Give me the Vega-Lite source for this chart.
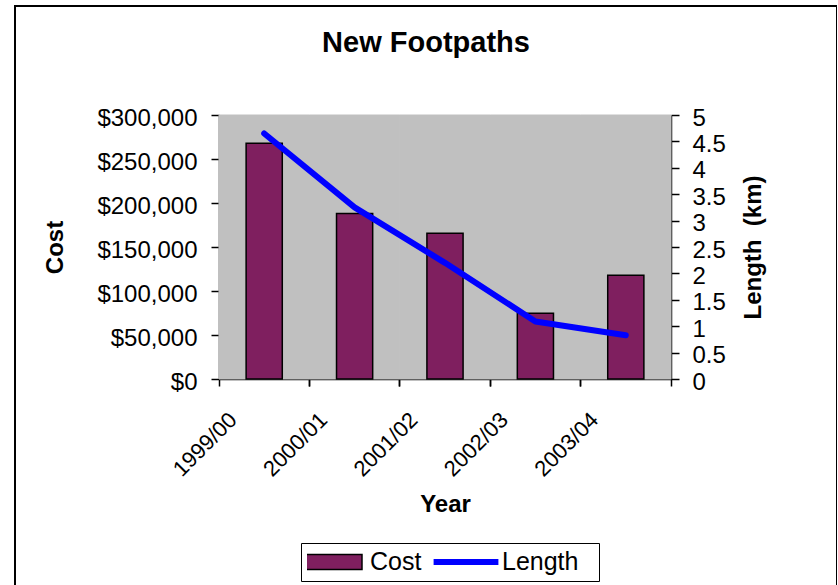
{
  "$schema": "https://vega.github.io/schema/vega-lite/v6.json",
  "width": 822,
  "height": 600,
  "autosize": {"type": "none"},
  "padding": {"left": 15, "top": 6, "right": 0, "bottom": 0},
  "background": "white",
  "config": {
    "view": {"stroke": "black", "strokeWidth": 2, "fill": "white"},
    "font": "Liberation Sans",
    "axis": {
      "labelFont": "Liberation Sans",
      "titleFont": "Liberation Sans",
      "labelColor": "black",
      "titleColor": "black",
      "domainColor": "black",
      "tickColor": "black",
      "domainWidth": 1.5,
      "tickWidth": 1.5,
      "grid": false,
      "labelFontSize": 24,
      "titleFontSize": 24,
      "titleFontWeight": "bold"
    },
    "legend": {
      "labelFont": "Liberation Sans",
      "labelFontSize": 25,
      "labelColor": "black",
      "labelBaseline": "middle",
      "labelLimit": 400,
      "padding": 6,
      "clipHeight": 26,
      "symbolSize": 3600,
      "direction": "vertical",
      "orient": "none"
    }
  },
  "title": {
    "text": "New Footpaths",
    "anchor": "middle",
    "frame": "group",
    "offset": -75,
    "baseline": "alphabetic",
    "font": "Liberation Sans",
    "fontSize": 29,
    "fontWeight": "bold",
    "color": "black"
  },
  "data": {
    "values": [
      {"Year": "1999/00", "Cost": 268000, "Length": 4.65},
      {"Year": "2000/01", "Cost": 188000, "Length": 3.25},
      {"Year": "2001/02", "Cost": 165600, "Length": 2.2},
      {"Year": "2002/03", "Cost": 74700, "Length": 1.09},
      {"Year": "2003/04", "Cost": 117800, "Length": 0.83}
    ]
  },
  "layer": [
    {
      "mark": {"type": "bar", "color": "#C0C0C0", "stroke": "#C0C0C0", "strokeWidth": 1, "width": {"band": 1}},
      "encoding": {
        "x": {
          "field": "Year",
          "type": "nominal",
          "sort": null,
          "scale": {"paddingInner": 0, "paddingOuter": 0, "range": [204, 656]},
          "axis": {
            "orient": "bottom",
            "offset": -227,
            "bandPosition": 0,
            "labelAngle": -45,
            "labelAlign": "right",
            "labelBaseline": "middle",
            "labelFontSize": 22,
            "labelOffset": -31,
            "labelPadding": 30,
            "labelOverlap": false,
            "tickSize": 7,
            "title": "Year",
            "titlePadding": 12,
            "encode": {"ticks": {"y": {"value": -7}}}
          }
        },
        "y": {
          "datum": 300000,
          "type": "quantitative",
          "scale": {"domain": [0, 300000], "range": [373, 109], "nice": false},
          "axis": {
            "orient": "left",
            "offset": -204,
            "values": [0, 50000, 100000, 150000, 200000, 250000, 300000],
            "format": "$,.0f",
            "tickSize": 8,
            "labelPadding": 14,
            "labelOffset": 3,
            "title": "Cost",
            "titlePadding": 29,
            "encode": {"ticks": {"x": {"value": 8}}}
          }
        },
        "y2": {"datum": 0}
      }
    },
    {
      "mark": {"type": "bar", "width": {"band": 0.4}, "stroke": "black", "strokeWidth": 1.5},
      "encoding": {
        "x": {
          "field": "Year",
          "type": "nominal",
          "sort": null,
          "scale": {"paddingInner": 0, "paddingOuter": 0, "range": [204, 656]},
          "axis": {
            "orient": "top",
            "offset": -109,
            "domainColor": "#808080",
            "domainWidth": 1,
            "ticks": false,
            "labels": false,
            "title": null
          }
        },
        "y": {
          "field": "Cost",
          "type": "quantitative",
          "scale": {"domain": [0, 300000], "range": [373, 109], "nice": false},
          "axis": null
        },
        "fill": {
          "datum": "Cost",
          "type": "nominal",
          "scale": {"domain": ["Cost"], "range": ["#7F1F5F"]},
          "legend": {
            "title": null,
            "legendX": 286,
            "legendY": 537,
            "symbolType": "M-1.13,-0.25H0.8V0.25H-1.13Z",
            "symbolStrokeColor": "black",
            "symbolStrokeWidth": 1.5,
            "labelOffset": 1,
            "strokeColor": null,
            "fillColor": "white"
          }
        }
      }
    },
    {
      "mark": {"type": "line", "strokeWidth": 6, "strokeCap": "round", "strokeJoin": "round"},
      "encoding": {
        "x": {
          "field": "Year",
          "type": "nominal",
          "sort": null,
          "scale": {"paddingInner": 0, "paddingOuter": 0, "range": [204, 656]},
          "axis": {
            "orient": "bottom",
            "offset": -227,
            "bandPosition": 1,
            "labels": false,
            "domain": false,
            "tickSize": 7,
            "title": null,
            "encode": {"ticks": {"y": {"value": -7}}}
          }
        },
        "y": {
          "field": "Length",
          "type": "quantitative",
          "scale": {"domain": [0, 5], "range": [373, 109], "nice": false},
          "axis": {
            "orient": "right",
            "offset": -166,
            "values": [0, 0.5, 1, 1.5, 2, 2.5, 3, 3.5, 4, 4.5, 5],
            "format": "~g",
            "tickSize": 8,
            "labelPadding": 13,
            "labelOffset": 3,
            "title": "Length\u00a0 (km)",
            "titleAngle": 270,
            "titleBaseline": "top",
            "titlePadding": 16,
            "encode": {"ticks": {"x": {"value": -8}}}
          }
        },
        "stroke": {
          "datum": "Length",
          "type": "nominal",
          "scale": {"domain": ["Length"], "range": ["#0000FF"]},
          "legend": {
            "title": null,
            "legendX": 286,
            "legendY": 537,
            "symbolType": "M-1.08,0H1.08",
            "symbolStrokeWidth": 6,
            "symbolOffset": 126,
            "labelOffset": 3,
            "labelExpr": "pad(datum.label, 8, '\u00a0') + '\u200b'",
            "strokeColor": "black",
            "fillColor": null
          }
        }
      }
    }
  ],
  "resolve": {
    "scale": {"y": "independent"},
    "axis": {"x": "independent", "y": "independent"}
  }
}
